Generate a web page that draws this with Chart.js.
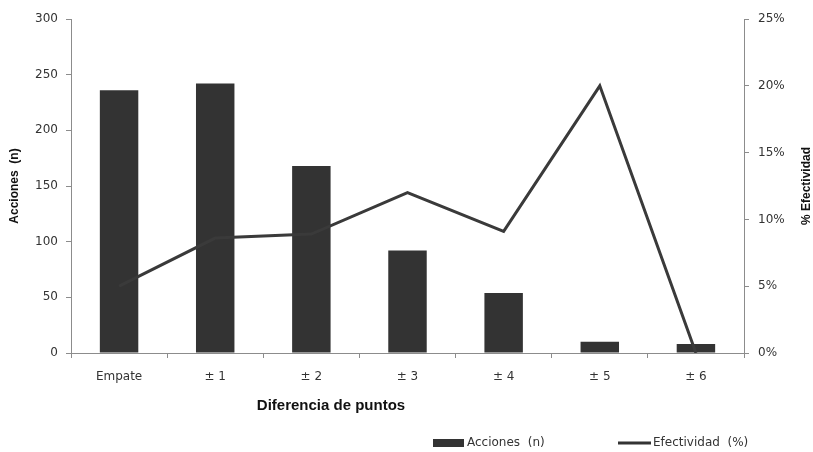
<!DOCTYPE html>
<html>
<head>
<meta charset="utf-8">
<script src="https://cdn.jsdelivr.net/npm/chart.js@4/dist/chart.umd.min.js"></script>
<style>
  html, body { margin: 0; padding: 0; background: #fff; }
  #wrap { width: 813px; height: 452px; position: relative; }
</style>
</head>
<body>
<div id="wrap"><canvas id="chart"></canvas></div>
<script>
const categories = ['Empate', '± 1', '± 2', '± 3', '± 4', '± 5', '± 6'];
const acciones = [236, 242, 168, 92, 54, 10, 8];
const efectividad = [5.0, 8.6, 8.9, 12.0, 9.1, 20.0, 0];
const leftTicks = [0, 50, 100, 150, 200, 250, 300];
const rightTicks = [0, 5, 10, 15, 20, 25];

const axisColor = '#8c8c8c';
const textColor = '#333333';
const barColor = '#333333';

// axis titles and legend drawn by hand, like the original layout
const extras = {
    id: 'extras',
    afterDraw(chart) {
        const ctx = chart.ctx;
        const area = chart.chartArea;
        const midY = (area.top + area.bottom) / 2;
        ctx.save();
        ctx.fillStyle = '#111';
        ctx.textAlign = 'center';
        ctx.textBaseline = 'middle';

        ctx.font = 'bold 12px "Liberation Sans"';
        ctx.save();
        ctx.translate(15, midY);
        ctx.rotate(-Math.PI / 2);
        ctx.fillText('Acciones  (n)', 0, 0);
        ctx.restore();

        ctx.save();
        ctx.translate(807, midY);
        ctx.rotate(-Math.PI / 2);
        ctx.fillText('% Efectividad', 0, 0);
        ctx.restore();

        ctx.font = 'bold 15px "Liberation Sans"';
        ctx.fillText('Diferencia de puntos', 331, 406);

        // legend
        ctx.fillStyle = barColor;
        ctx.fillRect(433, 439, 31, 8);
        ctx.strokeStyle = barColor;
        ctx.lineWidth = 3;
        ctx.beginPath();
        ctx.moveTo(618, 443);
        ctx.lineTo(651, 443);
        ctx.stroke();

        ctx.fillStyle = textColor;
        ctx.textAlign = 'left';
        ctx.font = '12px "DejaVu Sans"';
        ctx.fillText('Acciones  (n)', 467, 443);
        ctx.fillText('Efectividad  (%)', 653, 443);
        ctx.restore();
    }
};

const ctx = document.getElementById('chart').getContext('2d');
new Chart(ctx, {
    data: {
        labels: categories,
        datasets: [
            {
                type: 'line',
                label: 'Efectividad (%)',
                data: efectividad,
                yAxisID: 'y2',
                borderColor: '#3a3a3a',
                borderWidth: 3,
                pointRadius: 0,
                tension: 0,
                order: 0
            },
            {
                type: 'bar',
                label: 'Acciones (n)',
                data: acciones,
                yAxisID: 'y',
                backgroundColor: barColor,
                categoryPercentage: 1,
                barPercentage: 0.4,
                order: 1
            }
        ]
    },
    options: {
        responsive: true,
        maintainAspectRatio: false,
        animation: false,
        layout: { padding: { top: 19, left: 0, right: 0, bottom: 0 } },
        plugins: {
            legend: { display: false },
            tooltip: { enabled: false }
        },
        scales: {
            x: {
                offset: true,
                afterFit: (scale) => { scale.height = 99; },
                border: { color: axisColor, width: 1 },
                grid: {
                    offset: true,
                    drawOnChartArea: false,
                    color: axisColor,
                    tickLength: 5
                },
                ticks: {
                    color: textColor,
                    font: { family: 'DejaVu Sans', size: 12 },
                    padding: 12,
                    maxRotation: 0
                }
            },
            y: {
                position: 'left',
                min: 0,
                max: 300,
                afterFit: (scale) => { scale.width = 71; },
                afterBuildTicks: (scale) => { scale.ticks = leftTicks.map(v => ({ value: v })); },
                border: { color: axisColor, width: 1 },
                grid: { drawOnChartArea: false, color: axisColor, tickLength: 5 },
                ticks: {
                    color: textColor,
                    font: { family: 'DejaVu Sans', size: 12 },
                    padding: 8
                }
            },
            y2: {
                position: 'right',
                min: 0,
                max: 25,
                afterFit: (scale) => { scale.width = 69; },
                afterBuildTicks: (scale) => { scale.ticks = rightTicks.map(v => ({ value: v })); },
                border: { color: axisColor, width: 1 },
                grid: { drawOnChartArea: false, color: axisColor, tickLength: 5 },
                ticks: {
                    color: textColor,
                    font: { family: 'DejaVu Sans', size: 12 },
                    padding: 9,
                    callback: (v) => v + '%'
                }
            }
        }
    },
    plugins: [extras]
});
</script>
</body>
</html>
